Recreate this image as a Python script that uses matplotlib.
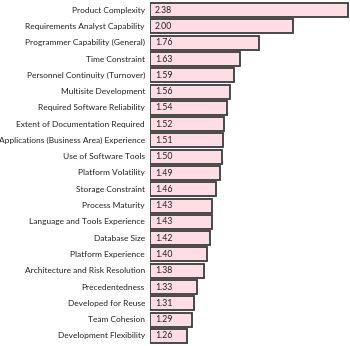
import matplotlib
matplotlib.use("Agg")
import matplotlib.pyplot as plt
import numpy as np

drivers = ["Product Complexity", "Requirements Analyst Capability",
           "Programmer Capability (General)", "Time Constraint",
           "Personnel Continuity (Turnover)", "Multisite Development",
           "Required Software Reliability", "Extent of Documentation Required",
           "Applications (Business Area) Experience", "Use of Software Tools",
           "Platform Volatility", "Storage Constraint", "Process Maturity",
           "Language and Tools Experience", "Database Size",
           "Platform Experience", "Architecture and Risk Resolution",
           "Precedentedness", "Developed for Reuse", "Team Cohesion",
           "Development Flexibility"]
ratios = [2.38, 2.00, 1.76, 1.63, 1.59, 1.56, 1.54, 1.52, 1.51, 1.50, 1.49,
          1.46, 1.43, 1.43, 1.42, 1.40, 1.38, 1.33, 1.31, 1.29, 1.26]

plt.rcParams['font.family'] = ['Lato', 'DejaVu Sans']

fig = plt.figure(figsize=(3.5, 3.46), dpi=100)
ax = fig.add_axes([150/350, 2/346, 199/350, 342/346])

y = np.arange(len(drivers))
vals = np.array(ratios)
ax.barh(y, vals - 1.0, left=1.0, height=0.86, color="#ffdde6",
        edgecolor="#3c3c3c", linewidth=1.3)
for yi, v in zip(y, vals):
    ax.text(1.035, yi, f"{v:.2f}", va="center", ha="left", fontsize=6.3,
            color="#222222")
    ax.text(0.965, yi, drivers[yi], va="center", ha="right", fontsize=6.0,
            color="#222222", clip_on=False)

ax.set_xlim(1.0, 2.39)
ax.set_ylim(len(drivers) - 0.5, -0.5)
ax.set_xticks([])
ax.set_yticks([])
for s in ax.spines.values():
    s.set_visible(False)

fig.savefig("out.png", dpi=100)
